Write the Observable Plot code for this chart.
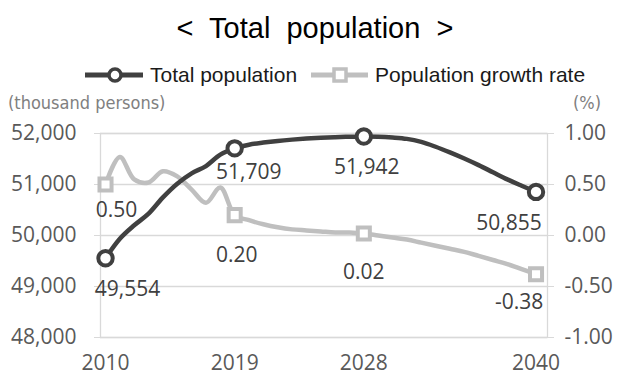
<!DOCTYPE html>
<html>
<head>
<meta charset="utf-8">
<script src="https://cdn.jsdelivr.net/npm/d3@7"></script>
<script src="https://cdn.jsdelivr.net/npm/@observablehq/plot@0.6"></script>
<style>
  html, body { margin: 0; padding: 0; background: #fff; }
  body { width: 618px; height: 378px; position: relative; overflow: hidden; }
  #title { position: absolute; left: 0; top: 8px; width: 618px; text-align: center;
           font: 29px "Liberation Sans", Arial, sans-serif; color: #000; white-space: pre; padding-left: 12px; box-sizing: border-box; line-height: 40px; }
  .leg { position: absolute; top: 62px; height: 26px; display: flex; align-items: center;
         font: 21px "Liberation Sans", Arial, sans-serif; color: #1a1a1a; }
  .leg svg { margin-right: 7px; }
  .unit { position: absolute; top: 90px; font: 18px "Liberation Sans Narrow", "DejaVu Sans Condensed", sans-serif; color: #808080; line-height: 26px; }
  #chart { position: absolute; left: 0; top: 118px; }
</style>
</head>
<body>
<div id="title"></div>
<div class="leg" id="leg1" style="left:85px"></div>
<div class="leg" id="leg2" style="left:311px"></div>
<div class="unit" id="unitL" style="left:8px"></div>
<div class="unit" id="unitR" style="right:17px"></div>
<div id="chart"></div>
<script>
// ---- data ----
const titleText = "<  Total  population  >";
const seriesNames = ["Total population", "Population growth rate"];
const unitLeft = "(thousand persons)";
const unitRight = "(%)";
const years = [2010, 2011, 2012, 2013, 2014, 2015, 2016, 2017, 2018, 2019,
               2020, 2021, 2022, 2023, 2024, 2025, 2026, 2027, 2028,
               2029, 2030, 2031, 2032, 2033, 2034, 2035, 2036, 2037, 2038, 2039, 2040];
const population = [49554, 49937, 50200, 50429, 50747, 51015, 51218, 51362, 51585, 51709,
                    51781, 51822, 51855, 51880, 51900, 51915, 51927, 51936, 51942,
                    51938, 51922, 51895, 51835, 51740, 51630, 51510, 51380, 51240, 51100, 50975, 50855];
const growthRate = [0.50, 0.77, 0.55, 0.52, 0.63, 0.58, 0.45, 0.32, 0.47, 0.20,
                    0.15, 0.11, 0.08, 0.06, 0.05, 0.04, 0.03, 0.03, 0.02,
                    0.00, -0.02, -0.04, -0.07, -0.10, -0.13, -0.16, -0.20, -0.24, -0.28, -0.33, -0.38];
const keyYears = [2010, 2019, 2028, 2040];
const popLabels = ["49,554", "51,709", "51,942", "50,855"];
const rateLabels = ["0.50", "0.20", "0.02", "-0.38"];
const leftTicks = [48000, 49000, 50000, 51000, 52000];
const rightTicks = [-1.00, -0.50, 0.00, 0.50, 1.00];

// ---- styles / layout ----
const popColor = "#404040", rateColor = "#bfbfbf", gridColor = "#d9d9d9";
const popDx = [22, 14, 3, -27], popDy = [31, 24, 31, 31];
const rateDx = [11, 2, 0, -17], rateDy = [26, 40, 39, 28];

// right axis (percent) mapped onto the left scale: 0% -> 50,000, 1% -> 2,000 thousand
const rateToY = r => 50000 + r * 2000;
const yToRate = v => (v - 50000) / 2000;

const data = years.map((year, i) => ({year, pop: population[i], rate: growthRate[i], rateY: rateToY(growthRate[i])}));
const keyData = keyYears.map((year, i) => {
  const d = data.find(e => e.year === year);
  return {...d, popLabel: popLabels[i], rateLabel: rateLabels[i]};
});

document.getElementById("title").textContent = titleText;
document.getElementById("unitL").textContent = unitLeft;
document.getElementById("unitR").textContent = unitRight;
document.getElementById("leg1").innerHTML =
  `<svg width="58" height="20"><line x1="0" x2="58" y1="10" y2="10" stroke="${popColor}" stroke-width="5"/>` +
  `<circle cx="30" cy="10" r="6" fill="#fff" stroke="${popColor}" stroke-width="3.5"/></svg><span>${seriesNames[0]}</span>`;
document.getElementById("leg2").innerHTML =
  `<svg width="57" height="20"><line x1="0" x2="57" y1="10" y2="10" stroke="${rateColor}" stroke-width="5"/>` +
  `<rect x="23" y="4" width="12" height="12" fill="#fff" stroke="${rateColor}" stroke-width="3.5"/></svg><span>${seriesNames[1]}</span>`;

const labelFont = "'Open Sans', Lato, sans-serif";

const marks = [
  Plot.ruleY(leftTicks, {stroke: gridColor, strokeWidth: 1.3}),
  Plot.frame({stroke: gridColor, strokeWidth: 1.3}),
  Plot.axisY({anchor: "left", ticks: leftTicks, tickSize: 6, tickPadding: 18, stroke: gridColor,
              fill: "#595959", tickFormat: d3.format(","), label: null}),
  Plot.axisY({anchor: "right", ticks: rightTicks.map(rateToY), tickSize: 6, tickPadding: 11, stroke: gridColor,
              fill: "#595959", tickFormat: v => yToRate(v).toFixed(2), label: null}),
  Plot.axisX({ticks: keyYears, tickSize: 0, tickPadding: 18, fill: "#595959", tickFormat: d => String(d), label: null}),
  Plot.line(data, {x: "year", y: "rateY", curve: "catmull-rom", stroke: rateColor, strokeWidth: 4.5}),
  Plot.line(data, {x: "year", y: "pop", curve: "catmull-rom", stroke: popColor, strokeWidth: 4.5}),
  Plot.dot(keyData, {x: "year", y: "rateY", symbol: "square", r: 6.8, fill: "#fff", stroke: rateColor, strokeWidth: 4}),
  Plot.dot(keyData, {x: "year", y: "pop", symbol: "circle", r: 7.2, fill: "#fff", stroke: popColor, strokeWidth: 4}),
  ...keyData.map((d, i) => Plot.text([d], {x: "year", y: "pop", text: "popLabel", dx: popDx[i], dy: popDy[i],
                                           fill: popColor, fontSize: 21})),
  ...keyData.map((d, i) => Plot.text([d], {x: "year", y: "rateY", text: "rateLabel", dx: rateDx[i], dy: rateDy[i],
                                           fill: popColor, fontSize: 21}))
];

const chart = Plot.plot({
  width: 618, height: 260,
  marginTop: 15, marginBottom: 41, marginLeft: 100, marginRight: 71,
  x: {domain: [2009.65, 2040.8]},
  y: {domain: [48000, 52000]},
  style: {fontFamily: labelFont, fontSize: "21px", background: "transparent", overflow: "visible"},
  marks
});
document.getElementById("chart").appendChild(chart);
</script>
</body>
</html>
